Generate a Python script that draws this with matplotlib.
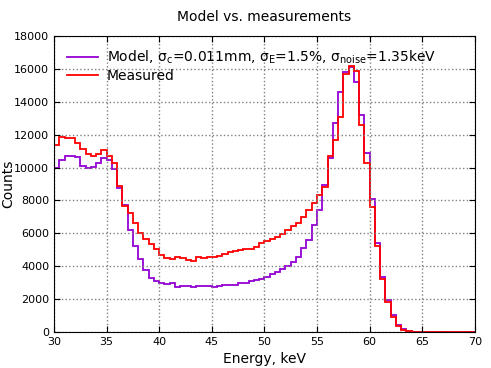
import numpy as np
import matplotlib
matplotlib.use('Agg')
import matplotlib.pyplot as plt

# bin edges 30..70 keV, 0.5 keV wide
edges = np.arange(30, 70.01, 0.5)

model = [9950, 10450, 10700, 10700, 10650, 10100, 10000, 10050, 10250, 10600,
         10450, 9900, 8750, 7700, 6200, 5200, 4420, 3750, 3260, 3100,
         3000, 2920, 2950, 2760, 2800, 2810, 2760, 2790, 2800, 2820,
         2760, 2800, 2880, 2880, 2880, 2950, 3000, 3080, 3160, 3240,
         3360, 3500, 3670, 3830, 4030, 4240, 4580, 5090, 5590, 6500,
         7420, 8940, 10600, 12700, 14600, 15800, 16100, 15200, 13200, 10900,
         8100, 5400, 3340, 1950, 1000, 450, 180, 60, 20, 10,
         5, 5, 0, 0, 0, 0, 0, 0, 0, 0]

measured = [11400, 11850, 11800, 11800, 11500, 11100, 10800, 10700, 10850, 11050,
            10700, 10300, 8850, 7650, 7250, 6600, 6000, 5650, 5350, 5050,
            4700, 4480, 4450, 4550, 4480, 4380, 4330, 4530, 4480, 4560,
            4540, 4600, 4720, 4850, 4950, 4990, 5030, 5030, 5150, 5390,
            5550, 5650, 5760, 5960, 6200, 6450, 6650, 7010, 7420, 7820,
            8330, 8800, 10700, 11700, 13100, 15700, 16150, 15900, 12600, 10300,
            7600, 5200, 3200, 1850, 900, 350, 120, 50, 20, 10,
            5, 5, 0, 0, 0, 0, 0, 0, 0, 0]

plt.rcParams['mathtext.default'] = 'regular'

fig = plt.figure(figsize=(4.91, 3.68), dpi=100)
ax = fig.add_axes([0.110, 0.098, 0.857, 0.804])

ax.stairs(model, edges, color='#9400d3', lw=1.3,
          label=r'Model, $\sigma_c$=0.011mm, $\sigma_E$=1.5%, $\sigma_{noise}$=1.35keV')
ax.stairs(measured, edges, color='red', lw=1.3, label='Measured')

ax.set_xlim(30, 70)
ax.set_ylim(0, 18000)
ax.set_xticks(np.arange(30, 71, 5))
ax.set_yticks(np.arange(0, 18001, 2000))
ax.tick_params(direction='in', top=True, right=True, labelsize=8, length=4)
ax.grid(True, color='gray', linestyle=':', linewidth=1)
ax.set_xlabel('Energy, keV', fontsize=10)
ax.set_ylabel('Counts', fontsize=10)
ax.yaxis.set_label_coords(-0.093, 0.5)
ax.set_title('Model vs. measurements', fontsize=10, pad=11)
ax.legend(loc='upper left', frameon=False, fontsize=10, handlelength=2.3,
          handletextpad=0.6, borderaxespad=0.6, labelspacing=0.2,
          borderpad=0.3)

fig.savefig('out.png', dpi=100)
